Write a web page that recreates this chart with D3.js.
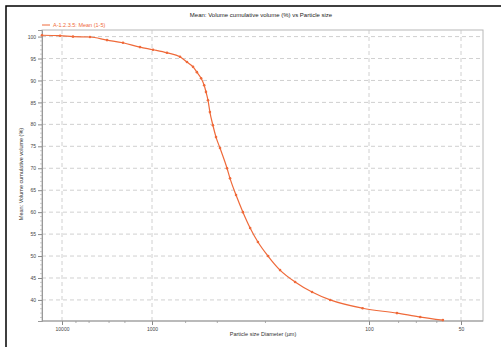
<!DOCTYPE html>
<html><head><meta charset="utf-8">
<script src="https://cdn.jsdelivr.net/npm/d3@7"></script>
<style>html,body{margin:0;padding:0;background:#fff;}svg{display:block;font-family:"Liberation Sans",Arial,sans-serif;}</style>
</head><body>
<svg id="c" width="501" height="347"></svg>
<script>
// Data
const sizes = [16700,10500,7550,4890,3160,2100,1360,989,853,743,690,647,621,594,575,564,552,541,524,507,486,451,437,410,381,353,325,292,257,219,183,151,107,81,68,57.3];
const cumVolume = [100.3,100.2,100.0,99.9,99.2,98.6,97.6,97.0,96.3,95.4,94.2,93.1,91.9,90.5,88.9,87.4,85.5,82.8,79.8,77.1,74.6,70.0,67.7,63.9,60.0,56.4,53.2,50.0,46.8,44.1,41.8,40.0,38.1,37.0,36.1,35.4];
const xTickValues = [10000,1000,100,50];
const xMinorTicks = [7000,5000,3000,2000,700,500,300,80,70,60];
const yTickValues = [40,45,50,55,60,65,70,75,80,85,90,95,100];
const seriesName = "A-1.2.3.5: Mean (1-5)";
const title = "Mean: Volume cumulative volume (%) vs Particle size";
const xTitle = "Particle size Diameter (µm)";
const yTitle = "Mean: Volume cumulative volume (%)";

const svg = d3.select("#c");
const L = 42, R = 483, T = 30, B = 321;
const color = "#ef6a3a";

// outer frame
svg.append("rect").attr("x",6).attr("y",6).attr("width",520).attr("height",360)
  .attr("fill","none").attr("stroke","#000").attr("stroke-width",1.5);

const x = d3.scaleLog().domain([10000,1000,100,50]).range([62,152,369,461]);
const y = d3.scaleLinear().domain([35.2,101.5]).range([B,T]);

// plot border
svg.append("rect").attr("x",L).attr("y",T).attr("width",R-L).attr("height",B-T)
  .attr("fill","none").attr("stroke","#b8b8b8").attr("stroke-width",1);

// grid
const grid = svg.append("g").attr("stroke","#c4c4c4").attr("stroke-width",0.8).attr("stroke-dasharray","4,3");
grid.selectAll("line.h").data(yTickValues).join("line").attr("class","h")
  .attr("x1",L).attr("x2",R).attr("y1",d=>y(d)).attr("y2",d=>y(d));
grid.selectAll("line.v").data(xTickValues).join("line").attr("class","v")
  .attr("x1",d=>x(d)).attr("x2",d=>x(d)).attr("y1",T).attr("y2",B);

// y axis
const yAxis = svg.append("g").attr("transform",`translate(${L},0)`)
  .call(d3.axisLeft(y).tickValues(yTickValues).tickSize(4).tickPadding(2).tickFormat(d3.format("d")));
yAxis.select(".domain").attr("stroke","#999");
yAxis.selectAll(".tick line").attr("stroke","#888");
yAxis.selectAll("text").attr("font-size",5).attr("fill","#444").attr("font-family","Liberation Sans, Arial, sans-serif");
const yMinor = d3.range(36,101,1).filter(v=>v%5!==0);
svg.append("g").selectAll("line").data(yMinor).join("line")
  .attr("x1",L-2).attr("x2",L).attr("y1",d=>y(d)).attr("y2",d=>y(d)).attr("stroke","#aaa").attr("stroke-width",0.6);

// x axis
const xAxis = svg.append("g").attr("transform",`translate(0,${B})`)
  .call(d3.axisBottom(x).tickValues(xTickValues).tickSize(4).tickPadding(2).tickFormat(d3.format("d")));
xAxis.select(".domain").remove();
xAxis.selectAll(".tick line").attr("stroke","#888");
xAxis.selectAll("text").attr("font-size",5).attr("fill","#444").attr("font-family","Liberation Sans, Arial, sans-serif");
svg.append("line").attr("x1",L).attr("x2",R).attr("y1",B).attr("y2",B).attr("stroke","#999");
svg.append("g").selectAll("line").data(xMinorTicks).join("line")
  .attr("x1",d=>x(d)).attr("x2",d=>x(d)).attr("y1",B).attr("y2",B+2).attr("stroke","#999").attr("stroke-width",0.8);

// series
const pts = sizes.map((s,i)=>[s,cumVolume[i]]);
svg.append("path").datum(pts)
  .attr("d",d3.line().x(d=>x(d[0])).y(d=>y(d[1])).curve(d3.curveMonotoneX))
  .attr("fill","none").attr("stroke",color).attr("stroke-width",1.2);
svg.append("g").selectAll("circle").data(pts).join("circle")
  .attr("cx",d=>x(d[0])).attr("cy",d=>y(d[1])).attr("r",1.3).attr("fill",color);

// legend
svg.append("line").attr("x1",42).attr("x2",50).attr("y1",25).attr("y2",25).attr("stroke",color).attr("stroke-width",1);
svg.append("text").attr("x",53).attr("y",27).attr("font-size",5.5).attr("fill",color).text(seriesName);

// titles
svg.append("text").attr("x",261).attr("y",17).attr("text-anchor","middle").attr("font-size",6).attr("fill","#222").text(title);
svg.append("text").attr("x",263).attr("y",336).attr("text-anchor","middle").attr("font-size",5.5).attr("fill","#333").text(xTitle);
svg.append("text").attr("transform","translate(23,174) rotate(-90)").attr("text-anchor","middle").attr("font-size",5.5).attr("fill","#333").text(yTitle);
</script>
</body></html>
